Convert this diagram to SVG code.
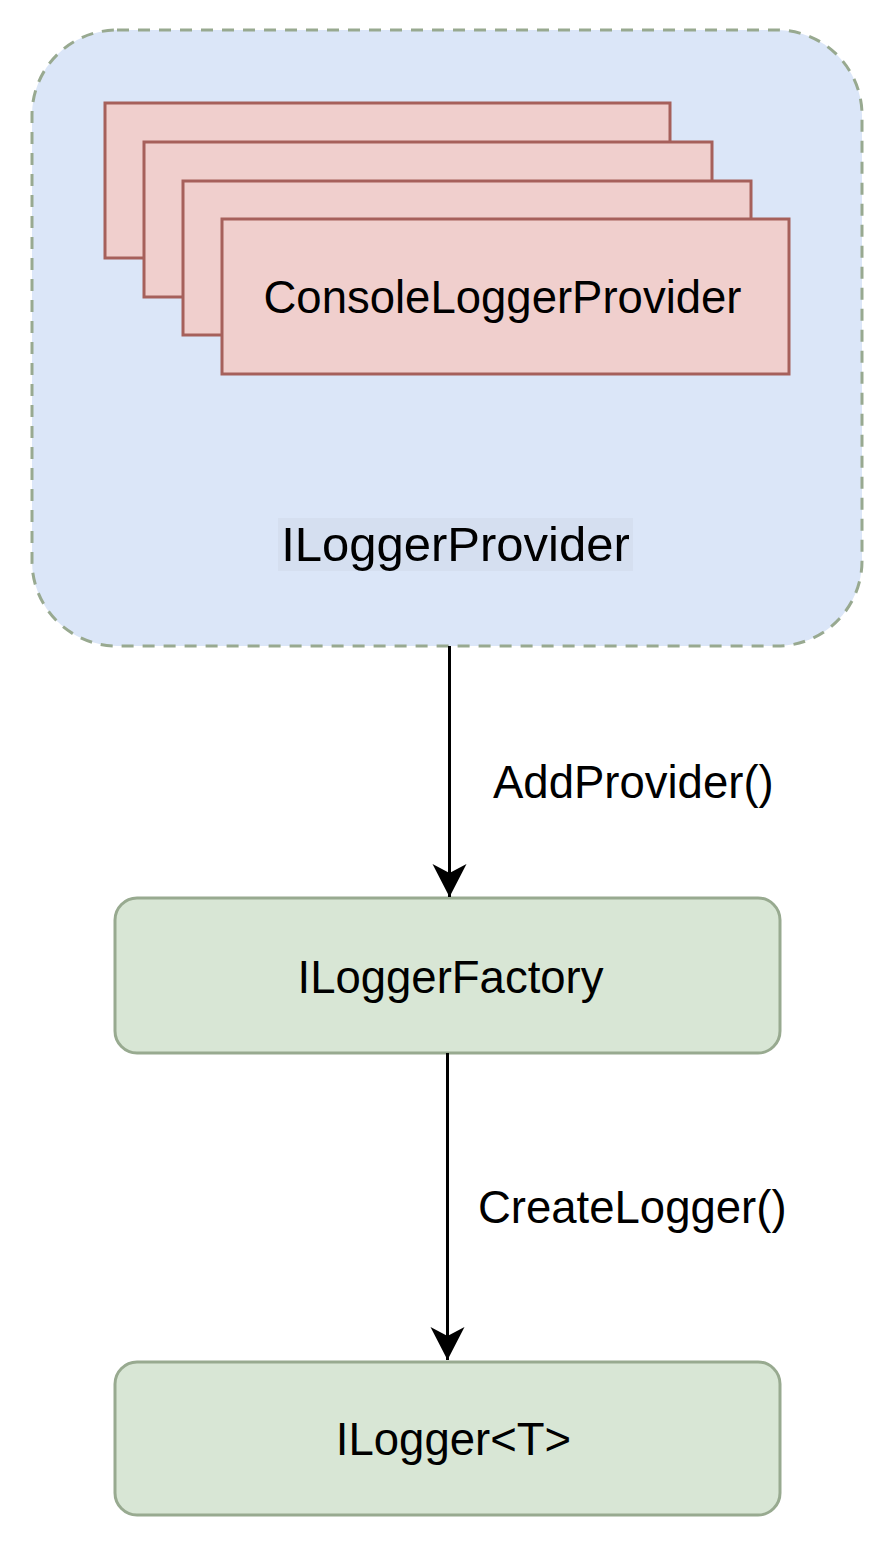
<svg xmlns="http://www.w3.org/2000/svg" width="896" height="1549" viewBox="0 0 896 1549">
  <style>
    .lbl { font-family: "Liberation Sans", Arial, Helvetica, sans-serif; fill: #000000; }
    .red { fill: #f0cfcd; stroke: #a6605b; stroke-width: 3; }
    .green { fill: #d8e6d5; stroke: #98aa90; stroke-width: 3; }
    .edge { fill: none; stroke: #000000; stroke-width: 3; }
  </style>
  <defs>
    <marker id="arrow" markerUnits="userSpaceOnUse" markerWidth="36" markerHeight="36" viewBox="0 0 36 36" refX="34" refY="18" orient="auto">
      <path d="M1,1 L34,18 L1,35 L10,18 Z" fill="#000000"/>
    </marker>
  </defs>
  <rect width="896" height="1549" fill="#ffffff"/>

  <g id="ILoggerProvider">
    <rect x="32" y="30" width="830" height="616" rx="85" ry="85" fill="#dbe6f8" stroke="#98a990" stroke-width="3" stroke-dasharray="12 9"/>
    <rect x="278" y="518" width="355" height="53" fill="#d5dff0"/>
    <text class="lbl" x="455.5" y="561" font-size="49" text-anchor="middle">ILoggerProvider</text>
  </g>

  <g id="ConsoleLoggerProvider">
    <rect class="red" x="105" y="103" width="565" height="155"/>
    <rect class="red" x="144" y="142" width="568" height="155"/>
    <rect class="red" x="183" y="181" width="568" height="154"/>
    <rect class="red" x="222" y="219" width="567" height="155"/>
    <text class="lbl" x="502.5" y="313" font-size="45.5" text-anchor="middle">ConsoleLoggerProvider</text>
  </g>

  <g id="ILoggerFactory">
    <rect class="green" x="115" y="898" width="665" height="155" rx="22" ry="22"/>
    <text class="lbl" x="450.5" y="993" font-size="45.5" text-anchor="middle">ILoggerFactory</text>
  </g>

  <g id="ILoggerT">
    <rect class="green" x="115" y="1362" width="665" height="153" rx="22" ry="22"/>
    <text class="lbl" x="453.5" y="1455" font-size="45.5" text-anchor="middle">ILogger&lt;T&gt;</text>
  </g>

  <g id="connectors">
    <path class="edge" d="M449.5,646 L449.5,897" marker-end="url(#arrow)"/>
    <text class="lbl" x="493" y="798" font-size="45.5">AddProvider()</text>
    <path class="edge" d="M447.5,1053 L447.5,1360" marker-end="url(#arrow)"/>
    <text class="lbl" x="478" y="1223" font-size="45.5">CreateLogger()</text>
  </g>
</svg>
